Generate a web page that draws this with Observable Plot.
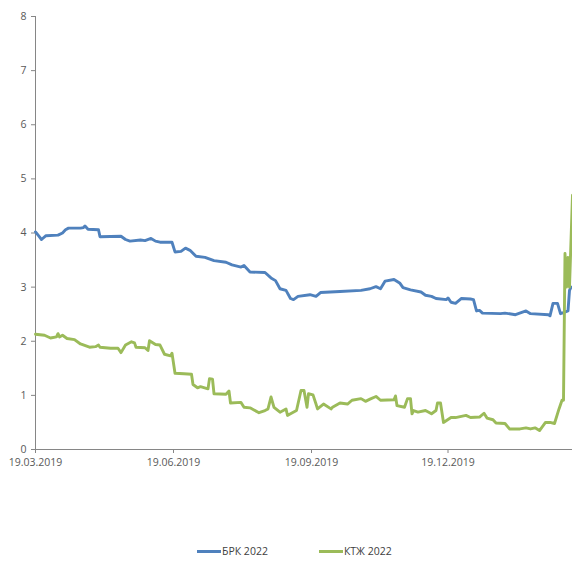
<!DOCTYPE html>
<html>
<head>
<meta charset="utf-8">
<script src="https://cdn.jsdelivr.net/npm/d3@7"></script>
<script src="https://cdn.jsdelivr.net/npm/@observablehq/plot@0.6"></script>
<style>
  body { margin: 0; background: #fff; font-family: "Open Sans", sans-serif; }
  #wrap { width: 572px; height: 568px; position: relative; overflow: hidden; }
  .legend { display: flex; align-items: center; padding-left: 197px; padding-top: 24px; font-size: 10.5px; color: #404040; }
  .item { display: flex; align-items: center; margin-right: 51px; }
  .sw { width: 24px; height: 3px; margin-right: 1px; }
</style>
</head>
<body>
<div id="wrap"></div>
<script>
const seriesNames = ["БРК 2022", "КТЖ 2022"];
const seriesColors = ["#4F81BD", "#9BBB59"];
const xTickDates = ["2019-03-19", "2019-06-19", "2019-09-19", "2019-12-19"];
const yTicks = [0, 1, 2, 3, 4, 5, 6, 7, 8];

const brkDates = ["2019-03-19","2019-03-21","2019-03-23","2019-03-26","2019-04-03","2019-04-06","2019-04-08","2019-04-10","2019-04-18","2019-04-20","2019-04-21","2019-04-23","2019-04-30","2019-05-01","2019-05-15","2019-05-18","2019-05-21","2019-05-28","2019-05-31","2019-06-04","2019-06-07","2019-06-10","2019-06-18","2019-06-20","2019-06-24","2019-06-27","2019-06-30","2019-07-04","2019-07-10","2019-07-16","2019-07-24","2019-07-28","2019-08-03","2019-08-05","2019-08-09","2019-08-19","2019-08-23","2019-08-26","2019-08-29","2019-09-02","2019-09-05","2019-09-07","2019-09-10","2019-09-18","2019-09-22","2019-09-25","2019-10-08","2019-10-22","2019-10-28","2019-11-01","2019-11-04","2019-11-07","2019-11-13","2019-11-17","2019-11-19","2019-11-24","2019-12-01","2019-12-04","2019-12-08","2019-12-11","2019-12-18","2019-12-19","2019-12-21","2019-12-24","2019-12-28","2020-01-03","2020-01-05","2020-01-07","2020-01-09","2020-01-11","2020-01-23","2020-01-26","2020-02-02","2020-02-09","2020-02-12","2020-02-24","2020-02-25","2020-02-27","2020-03-01","2020-03-03","2020-03-05","2020-03-08","2020-03-09","2020-03-10","2020-03-11"];
const brkValues = [4.02,3.95,3.88,3.95,3.96,4.00,4.06,4.09,4.09,4.10,4.13,4.07,4.06,3.93,3.94,3.88,3.85,3.87,3.86,3.90,3.85,3.83,3.83,3.65,3.66,3.72,3.68,3.57,3.55,3.49,3.46,3.41,3.37,3.40,3.28,3.27,3.17,3.12,2.97,2.94,2.79,2.77,2.83,2.86,2.83,2.90,2.92,2.94,2.97,3.01,2.97,3.11,3.14,3.07,2.99,2.95,2.91,2.85,2.83,2.79,2.77,2.80,2.72,2.70,2.79,2.78,2.77,2.56,2.57,2.52,2.51,2.52,2.49,2.56,2.51,2.49,2.47,2.70,2.70,2.51,2.53,2.56,2.94,3.00,3.00];

const ktzDates = ["2019-03-19","2019-03-25","2019-03-29","2019-04-02","2019-04-03","2019-04-04","2019-04-06","2019-04-09","2019-04-14","2019-04-18","2019-04-24","2019-04-28","2019-04-30","2019-05-01","2019-05-08","2019-05-13","2019-05-15","2019-05-18","2019-05-22","2019-05-24","2019-05-25","2019-05-31","2019-06-02","2019-06-03","2019-06-07","2019-06-10","2019-06-13","2019-06-17","2019-06-18","2019-06-20","2019-06-26","2019-07-01","2019-07-02","2019-07-05","2019-07-07","2019-07-12","2019-07-13","2019-07-15","2019-07-16","2019-07-24","2019-07-26","2019-07-27","2019-08-03","2019-08-05","2019-08-09","2019-08-15","2019-08-19","2019-08-21","2019-08-23","2019-08-25","2019-08-29","2019-09-02","2019-09-03","2019-09-05","2019-09-09","2019-09-12","2019-09-14","2019-09-16","2019-09-17","2019-09-20","2019-09-22","2019-09-23","2019-09-27","2019-10-02","2019-10-03","2019-10-08","2019-10-13","2019-10-16","2019-10-22","2019-10-25","2019-10-28","2019-11-01","2019-11-04","2019-11-13","2019-11-14","2019-11-15","2019-11-20","2019-11-22","2019-11-24","2019-11-25","2019-11-26","2019-11-29","2019-12-04","2019-12-08","2019-12-11","2019-12-12","2019-12-14","2019-12-16","2019-12-21","2019-12-24","2019-12-31","2020-01-03","2020-01-09","2020-01-12","2020-01-14","2020-01-18","2020-01-20","2020-01-26","2020-01-29","2020-02-05","2020-02-09","2020-02-12","2020-02-15","2020-02-18","2020-02-22","2020-02-25","2020-02-28","2020-03-02","2020-03-04","2020-03-05","2020-03-06","2020-03-07","2020-03-08","2020-03-09","2020-03-11"];
const ktzValues = [2.13,2.11,2.06,2.08,2.14,2.08,2.11,2.05,2.03,1.95,1.89,1.90,1.93,1.89,1.87,1.87,1.79,1.93,1.99,1.97,1.89,1.88,1.83,2.01,1.94,1.93,1.76,1.73,1.78,1.41,1.40,1.39,1.20,1.14,1.16,1.12,1.31,1.30,1.03,1.02,1.08,0.86,0.87,0.78,0.77,0.68,0.72,0.75,0.97,0.78,0.69,0.75,0.63,0.66,0.72,1.09,1.09,0.78,1.03,1.01,0.84,0.75,0.84,0.75,0.78,0.86,0.84,0.91,0.94,0.89,0.93,0.98,0.91,0.92,0.99,0.81,0.78,0.94,0.94,0.66,0.72,0.69,0.72,0.66,0.72,0.86,0.86,0.50,0.59,0.59,0.63,0.59,0.60,0.67,0.58,0.55,0.49,0.48,0.38,0.38,0.40,0.38,0.40,0.35,0.50,0.50,0.48,0.75,0.91,0.91,3.62,3.00,3.55,3.00,4.70];

const parse = d3.utcParse("%Y-%m-%d");
const rows = [];
brkDates.forEach((d, i) => rows.push({date: parse(d), value: brkValues[i], series: seriesNames[0]}));
ktzDates.forEach((d, i) => rows.push({date: parse(d), value: ktzValues[i], series: seriesNames[1]}));

const x0 = parse("2019-03-19"), x1 = parse("2020-03-11");
const fmt = d3.utcFormat("%d.%m.%Y");

const chart = Plot.plot({
  width: 572,
  height: 520,
  marginLeft: 35,
  marginRight: 0,
  marginTop: 16,
  marginBottom: 71,
  style: {fontFamily: "'Open Sans', sans-serif", fontSize: "10.5px", color: "#595959", background: "#fff"},
  x: {type: "utc", domain: [x0, x1]},
  y: {domain: [0, 8]},
  color: {domain: seriesNames, range: seriesColors},
  marks: [
    Plot.ruleY([0], {stroke: "#868686", strokeWidth: 1}),
    Plot.ruleX([x0], {y1: 0, y2: 8, stroke: "#868686", strokeWidth: 1}),
    Plot.axisY({ticks: yTicks, tickSize: 4, tickPadding: 5, stroke: "#868686", tickFormat: d => String(d), label: null, fill: "#595959"}),
    Plot.axisX({ticks: xTickDates.map(parse), tickSize: 4, tickPadding: 5, stroke: "#868686", tickFormat: fmt, label: null, fill: "#595959"}),
    Plot.line(rows, {x: "date", y: "value", z: "series", stroke: "series", strokeWidth: 2.9, strokeLinejoin: "round", curve: "linear"})
  ]
});

const wrap = document.getElementById("wrap");
wrap.appendChild(chart);

const legend = document.createElement("div");
legend.className = "legend";
seriesNames.forEach((name, i) => {
  const it = document.createElement("div");
  it.className = "item";
  const sw = document.createElement("span");
  sw.className = "sw";
  sw.style.background = seriesColors[i];
  const lb = document.createElement("span");
  lb.textContent = name;
  it.appendChild(sw); it.appendChild(lb);
  legend.appendChild(it);
});
wrap.appendChild(legend);
</script>
</body>
</html>
